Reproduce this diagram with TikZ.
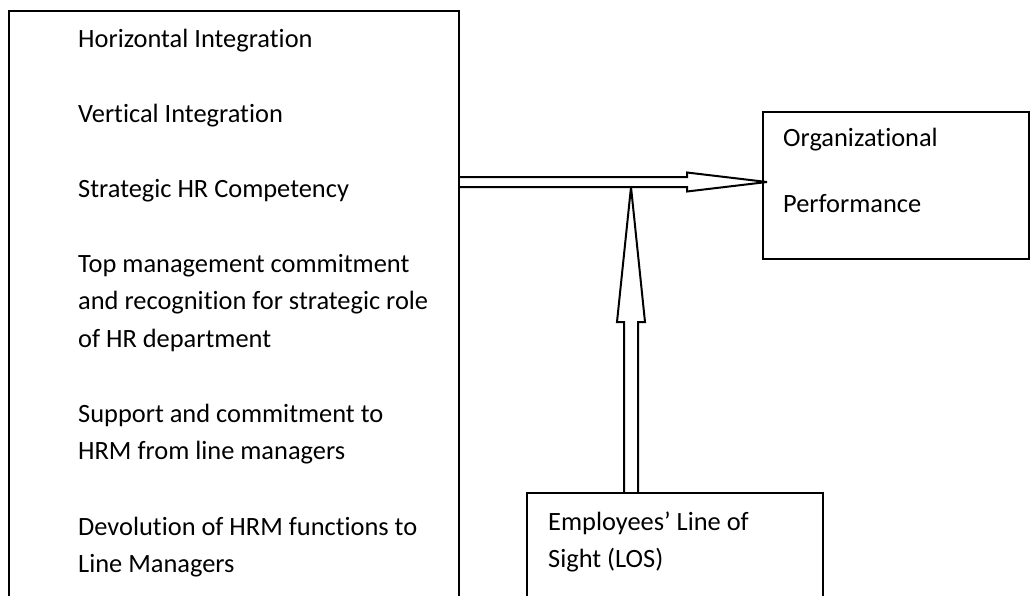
\documentclass[tikz,border=0pt]{standalone}
\usepackage{fontspec}
\setmainfont{Carlito}[Ligatures=NoCommon]
\usetikzlibrary{calc}
\tikzset{box/.style={draw,line width=2pt,anchor=north west,inner sep=0pt,outer sep=0pt},
  item/.style={anchor=base west,inner sep=0pt,font=\fontsize{26.4}{32}\selectfont},
  blk/.style={draw,line width=2pt,line join=miter,miter limit=3}}

\begin{document}
\begin{tikzpicture}[x=1pt,y=-1pt]
\useasboundingbox[fill=white] (0,0) rectangle (1031,595);
\clip (0,0) rectangle (1031,595);
% the three boxes (left and bottom ones run off the page)
\node[box,minimum width=450pt,minimum height=620pt] (factors) at (9,11) {};
\node[box,minimum width=266pt,minimum height=147pt] (orgperf) at (763,112) {};
\node[box,minimum width=296pt,minimum height=140pt] (los) at (527,493) {};
\foreach \y/\t [count=\i] in {47/Horizontal Integration,122/Vertical Integration,
  197/Strategic HR Competency,272/Top management commitment,
  309.5/and recognition for strategic role,347/of HR department,
  422/Support and commitment to,459.5/HRM from line managers,
  535/Devolution of HRM functions to,572/Line Managers}
  \node[item] (f\i) at (78,\y) {\t};
\node[item] (op1) at (783,146) {Organizational};
\node[item] (op2) at (783,212) {Performance};
\node[item] (los1) at (548,530) {Employees’ Line of};
\node[item] (los2) at (548,567) {Sight (LOS)};
% block arrows
\coordinate (hy) at (0,182);
\coordinate (hs) at (factors.east |- hy);
\coordinate (ht) at ($(orgperf.west |- hy)+(4,0)$);
\coordinate (vt) at (631,187);
\coordinate (vb) at (vt |- los.north);
\draw[blk] ($(vb)+(-7,0)$) -- ($(vt)+(-7,135)$) -- ($(vt)+(-14,135)$) -- (vt)
  -- ($(vt)+(14,135)$) -- ($(vt)+(7,135)$) -- ($(vb)+(7,0)$);
\draw[blk] ($(hs)+(0,-5)$) -- ($(ht)+(-80,-5)$) -- ($(ht)+(-80,-9.5)$) -- (ht)
  -- ($(ht)+(-80,9.5)$) -- ($(ht)+(-80,5)$) -- ($(hs)+(0,5)$);
\end{tikzpicture}
\end{document}
